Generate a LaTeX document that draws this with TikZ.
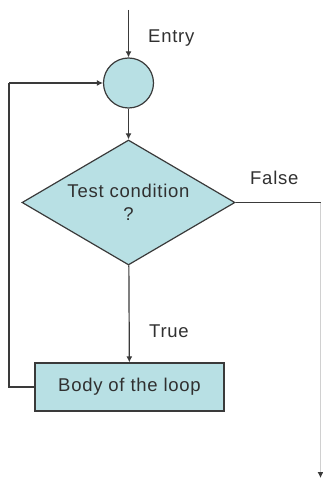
\documentclass[tikz,border=0pt]{standalone}
\usepackage{fontspec}
\setmainfont[LetterSpace=4]{Liberation Sans}
\usetikzlibrary{shapes.geometric,arrows.meta}
\definecolor{boxfill}{HTML}{B8E0E4}
\definecolor{edge}{HTML}{3A3A3A}
\definecolor{ink}{HTML}{303030}
\definecolor{faint}{HTML}{D0D0D0}
\begin{document}
\begin{tikzpicture}[x=1pt,y=-1pt,
  font=\fontsize{18.5}{23}\selectfont, text=ink,
  flowshape/.style={draw=edge, fill=boxfill, line width=1.2pt, inner sep=0pt},
  link/.style={draw=edge, line width=1.2pt, -{Latex[length=6pt,width=6pt]}},
  plain/.style={draw=edge, line width=1.2pt},
  lbl/.style={anchor=base west, inner sep=0pt}]
\useasboundingbox (0,0) rectangle (322,478);

% shapes of the loop
\node[flowshape, circle, minimum size=50pt] (junction) at (128.5,83) {};
\node[flowshape, diamond, minimum width=213pt, minimum height=125pt,
      shape aspect=1.7, align=center] (test) at (128.5,202.5)
      {Test condition\\?};
\node[flowshape, rectangle, minimum width=189pt, minimum height=48pt]
      (body) at (129.5,387) {Body of the loop};

% free ends and bends
\coordinate (start) at (128.5,10);
\coordinate (backlow) at (9,387);
\coordinate (backtop) at (9,83);
\coordinate (falsebend) at (320.5,202.5);
\coordinate (exit) at (320.5,478);

% connectors
\draw[link] (start) -- (junction);
\draw[link] (junction) -- (test);
\draw[link] (test) -- (body);
\draw[plain] (body.west) -- (backlow) -- (backtop);
\draw[link] (backtop) -- (junction.west);
\draw[plain] (test.east) -- (falsebend);
\draw[draw=faint, line width=1pt, -{Latex[length=6pt,width=6pt,color=edge]}]
      (falsebend) -- (exit);

% labels
\node[lbl] (entrylbl) at (148,43) {Entry};
\node[lbl] (falselbl) at (250,185) {False};
\node[lbl] (truelbl) at (149,337) {True};
\end{tikzpicture}
\end{document}
